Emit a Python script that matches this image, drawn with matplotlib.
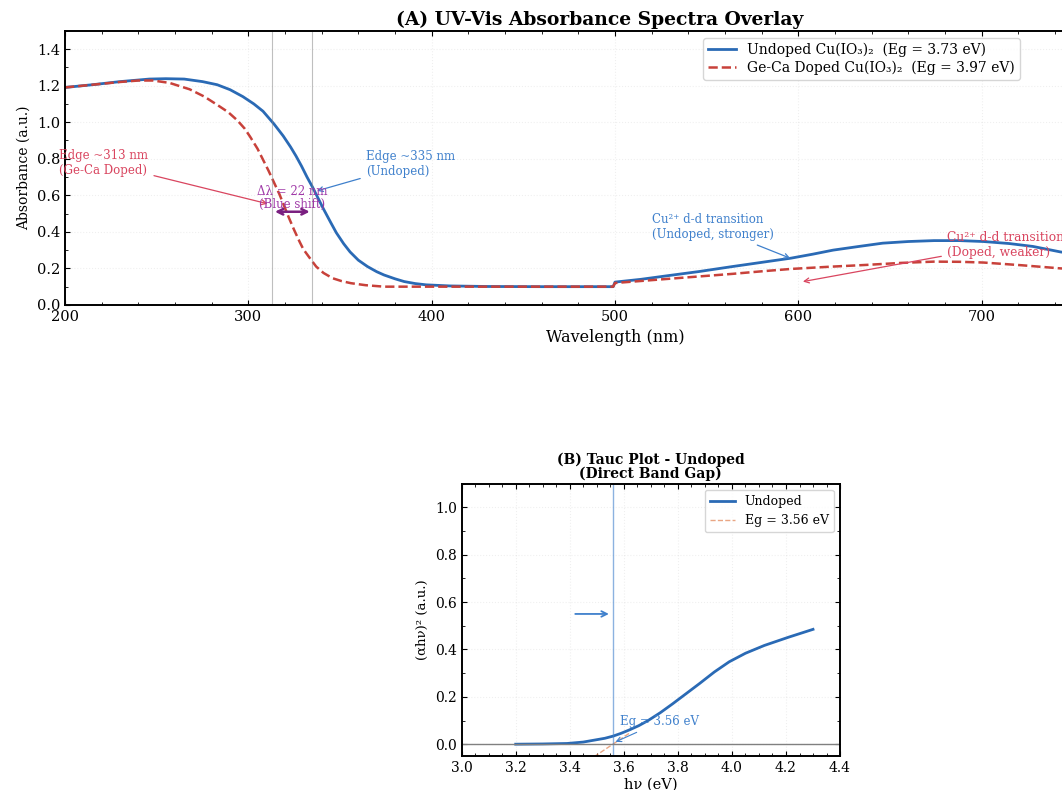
import matplotlib
matplotlib.use("Agg")
import matplotlib.pyplot as plt
from matplotlib.ticker import AutoMinorLocator, MultipleLocator

plt.rcParams['font.family'] = ['DejaVu Serif', 'DejaVu Sans']
plt.rcParams['xtick.direction'] = 'in'
plt.rcParams['ytick.direction'] = 'in'
plt.rcParams['xtick.top'] = True
plt.rcParams['ytick.right'] = True

# --- data ---
wl_undoped = [200, 215, 230, 246, 255, 265, 275, 283, 290, 297, 303, 308, 314, 319, 323, 326,
              329, 332, 335, 338, 341, 345, 348, 352, 355.5, 360, 365, 370, 374, 380, 385, 391,
              397, 410, 430, 460, 499, 500, 514, 528, 546, 564, 580, 596, 608, 619, 633, 646,
              660, 674, 688, 701, 715, 728, 743, 758, 780, 800]
abs_undoped = [1.19, 1.205, 1.222, 1.236, 1.238, 1.236, 1.222, 1.205, 1.178, 1.14, 1.10, 1.06,
               0.99, 0.925, 0.865, 0.815, 0.76, 0.70, 0.645, 0.585, 0.525, 0.45, 0.395, 0.335,
               0.29, 0.245, 0.21, 0.182, 0.164, 0.143, 0.128, 0.117, 0.11, 0.104, 0.101, 0.10,
               0.10, 0.125, 0.14, 0.159, 0.183, 0.21, 0.233, 0.256, 0.278, 0.30, 0.32, 0.338,
               0.347, 0.352, 0.352, 0.347, 0.336, 0.32, 0.29, 0.27, 0.245, 0.22]

wl_doped = [200, 215, 230, 240, 248, 257, 268, 276, 283, 289, 294, 298, 301, 305, 308, 311,
            314, 317, 319, 322, 325, 328, 330, 334, 337, 341, 346, 351, 356, 364, 374, 400,
            450, 499, 500, 514, 528, 546, 564, 580, 596, 617, 637, 656, 674, 688, 701, 722,
            743, 770, 800]
abs_doped = [1.19, 1.205, 1.22, 1.228, 1.228, 1.215, 1.18, 1.14, 1.095, 1.055, 1.01, 0.965,
             0.92, 0.855, 0.795, 0.735, 0.67, 0.605, 0.555, 0.48, 0.41, 0.345, 0.305, 0.25, 0.21,
             0.175, 0.146, 0.13, 0.119, 0.108, 0.10, 0.10, 0.10, 0.10, 0.12, 0.131, 0.142,
             0.156, 0.17, 0.184, 0.197, 0.209, 0.219, 0.23, 0.237, 0.236, 0.232, 0.217, 0.20,
             0.185, 0.16]

edge_undoped = 335
edge_doped = 313

hv = [3.20, 3.30, 3.39, 3.45, 3.49, 3.53, 3.56, 3.59, 3.62, 3.655, 3.69, 3.735, 3.78, 3.83,
      3.88, 3.935, 3.99, 4.05, 4.12, 4.21, 4.30]
tauc = [0.0, 0.001, 0.003, 0.009, 0.017, 0.025, 0.034, 0.046, 0.06, 0.078, 0.10, 0.133, 0.17,
        0.213, 0.256, 0.305, 0.348, 0.384, 0.417, 0.452, 0.485]
fit_x = [3.49, 3.62]
fit_y = [-0.053, 0.046]
eg_tauc = 3.56

blue = '#2a6ab5'
red = '#c8413a'
blue_txt = '#3f80cc'
red_txt = '#d9455f'

fig = plt.figure(figsize=(10.62, 7.9), dpi=100)

# ---------------- (A) spectra ----------------
ax1 = fig.add_axes([0.0612, 0.614, 1.0358, 0.347])
ax1.plot(wl_undoped, abs_undoped, color=blue, lw=2,
         label='Undoped Cu(IO₃)₂  (Eg = 3.73 eV)')
ax1.plot(wl_doped, abs_doped, color=red, lw=1.8, ls='--',
         label='Ge-Ca Doped Cu(IO₃)₂  (Eg = 3.97 eV)')
ax1.axvline(edge_doped, color='gray', lw=0.8, alpha=0.5)
ax1.axvline(edge_undoped, color='gray', lw=0.8, alpha=0.5)

ax1.annotate('Edge ~313 nm\n(Ge-Ca Doped)', xy=(312, 0.55), xytext=(197, 0.775),
             color=red_txt, fontsize=8.5, va='center', ha='left',
             arrowprops=dict(arrowstyle='->', color=red_txt, lw=0.9))
ax1.annotate('Edge ~335 nm\n(Undoped)', xy=(336, 0.62), xytext=(364, 0.77),
             color=blue_txt, fontsize=8.5, va='center', ha='left',
             arrowprops=dict(arrowstyle='->', color=blue_txt, lw=0.9))
ax1.annotate('', xy=(edge_doped, 0.51), xytext=(edge_undoped, 0.51),
             arrowprops=dict(arrowstyle='<->', color='#7a1f80', lw=1.8))
ax1.text(324, 0.584, 'Δλ = 22 nm\n(Blue shift)', color='#a03aa8', fontsize=8.5,
         ha='center', va='center', linespacing=1.0)
ax1.annotate('Cu²⁺ d-d transition\n(Undoped, stronger)', xy=(597, 0.25), xytext=(520, 0.425),
             color=blue_txt, fontsize=8.5, va='center', ha='left',
             arrowprops=dict(arrowstyle='->', color=blue_txt, lw=0.9))
ax1.annotate('Cu²⁺ d-d transition\n(Doped, weaker)', xy=(601, 0.125), xytext=(681, 0.33),
             color=red_txt, fontsize=8.8, va='center', ha='left',
             arrowprops=dict(arrowstyle='->', color=red_txt, lw=0.9))

ax1.set_xlim(200, 800)
ax1.set_ylim(0, 1.5)
ax1.xaxis.set_major_locator(MultipleLocator(100))
ax1.yaxis.set_major_locator(MultipleLocator(0.2))
ax1.xaxis.set_minor_locator(AutoMinorLocator(5))
ax1.yaxis.set_minor_locator(AutoMinorLocator(2))
ax1.tick_params(labelsize=10.5)
ax1.set_xlabel('Wavelength (nm)', fontsize=11.5)
ax1.set_ylabel('Absorbance (a.u.)', fontsize=10)
ax1.set_title('(A) UV-Vis Absorbance Spectra Overlay', fontsize=13.5, fontweight='bold',
              pad=4, x=0.486)
ax1.grid(True, color='gray', alpha=0.12, ls=':')
ax1.legend(loc='upper left', bbox_to_anchor=(0.574, 1.0), fontsize=10,
           labelspacing=0.25, borderpad=0.35, framealpha=0.8)
for s in ax1.spines.values():
    s.set_linewidth(1.4)

# ---------------- (B) Tauc plot ----------------
ax2 = fig.add_axes([0.4347, 0.043, 0.3563, 0.3447])
ax2.plot(hv, tauc, color=blue, lw=2, label='Undoped')
ax2.plot(fit_x, fit_y, color='#e08050', lw=1, ls='--', alpha=0.7, label='Eg = 3.56 eV')
ax2.axvline(eg_tauc, color=blue_txt, lw=1, alpha=0.6)
ax2.axhline(0, color='gray', lw=1)
ax2.annotate('', xy=(eg_tauc - 0.005, 0.55), xytext=(3.41, 0.55),
             arrowprops=dict(arrowstyle='->', color=blue_txt, lw=1.3))
ax2.annotate('Eg = 3.56 eV', xy=(eg_tauc, 0.005), xytext=(3.587, 0.094),
             color=blue_txt, fontsize=8.5, va='center', ha='left',
             arrowprops=dict(arrowstyle='->', color=blue_txt, lw=0.8))
ax2.set_xlim(3.0, 4.4)
ax2.set_ylim(-0.05, 1.1)
ax2.xaxis.set_major_locator(MultipleLocator(0.2))
ax2.yaxis.set_major_locator(MultipleLocator(0.2))
ax2.xaxis.set_minor_locator(AutoMinorLocator(4))
ax2.yaxis.set_minor_locator(AutoMinorLocator(2))
ax2.tick_params(labelsize=10)
ax2.set_xlabel('hν (eV)', fontsize=10.5, labelpad=2)
ax2.set_ylabel('(αhν)² (a.u.)', fontsize=9.5)
ax2.set_title('(B) Tauc Plot - Undoped\n(Direct Band Gap)', fontsize=10, fontweight='bold',
              pad=4, linespacing=0.95)
ax2.grid(True, color='gray', alpha=0.12, ls=':')
ax2.legend(loc='upper right', fontsize=9, framealpha=0.8)
for s in ax2.spines.values():
    s.set_linewidth(1.4)

fig.savefig('out.png', dpi=100)
